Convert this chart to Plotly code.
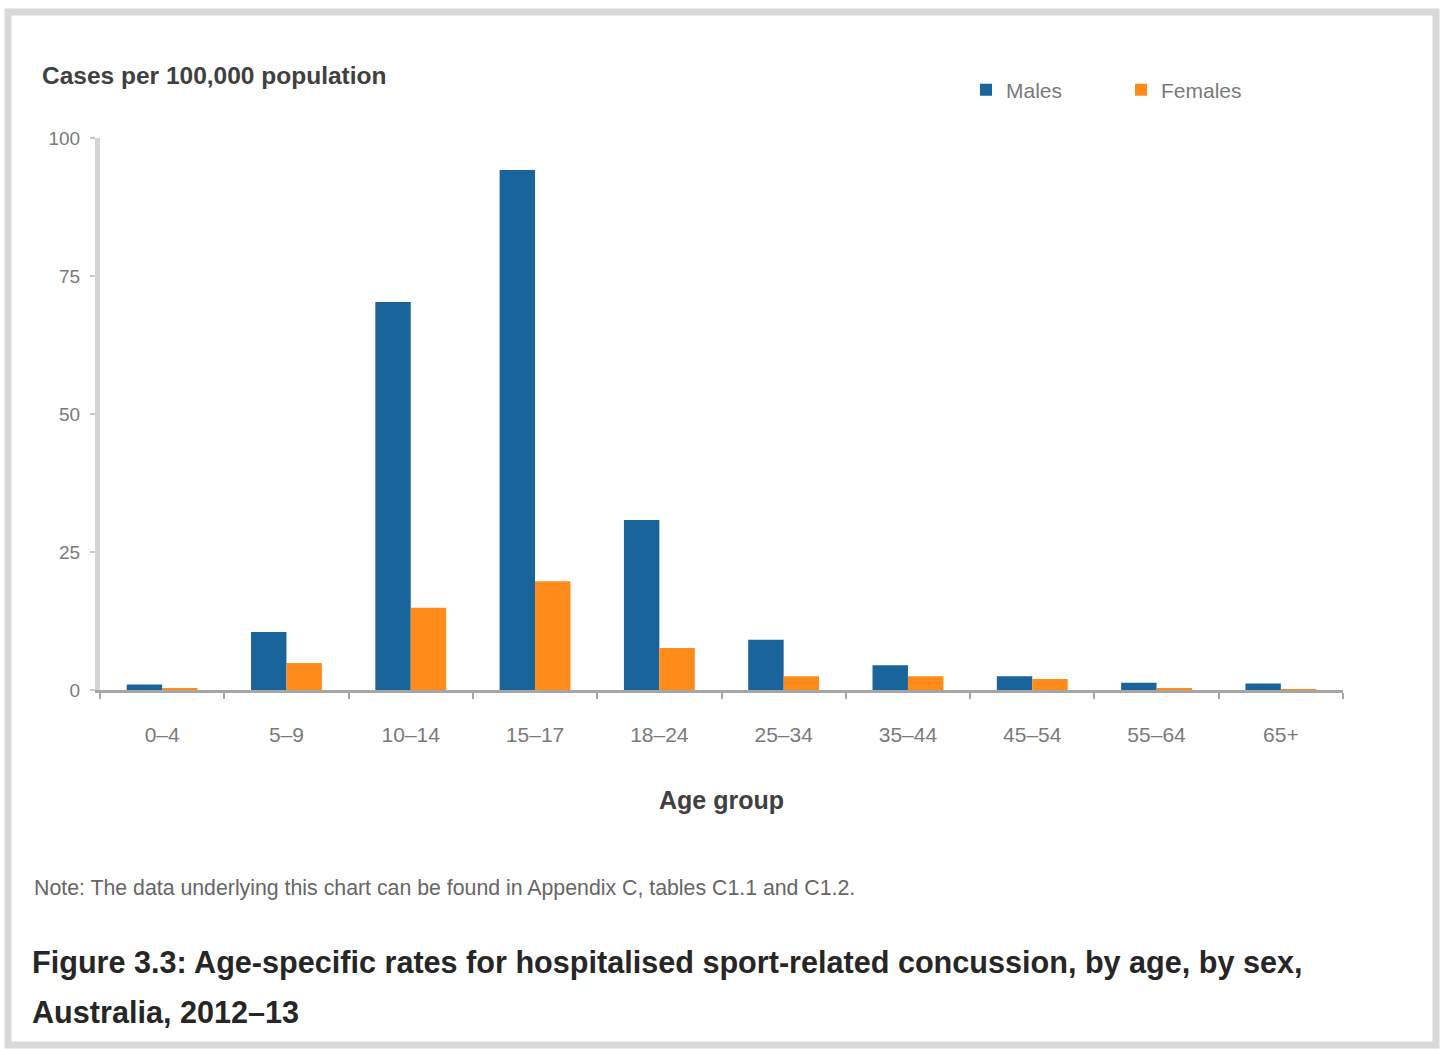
import plotly.graph_objects as go

# Age-specific rates of hospitalised sport-related concussion, 2012-13
age_groups = ["0–4", "5–9", "10–14", "15–17", "18–24", "25–34", "35–44", "45–54", "55–64", "65+"]
males = [1.0, 10.5, 70.3, 94.2, 30.8, 9.1, 4.5, 2.5, 1.3, 1.2]
females = [0.3, 4.9, 14.9, 19.7, 7.6, 2.5, 2.5, 2.0, 0.3, 0.1]
y_ticks = [0, 25, 50, 75, 100]
caption_lines = [
    "Figure 3.3: Age-specific rates for hospitalised sport-related concussion, by age, by sex,",
    "Australia, 2012–13",
]

BLUE = "#1a649c"
ORANGE = "#ff8c1a"
FONT = "Liberation Sans, Arial, sans-serif"

W, H = 1441, 1049
L, R, T, B = 100, 98, 138, 359
pw, ph = W - L - R, H - T - B


def px_x(x):
    return (x - L) / pw


def px_y(y):
    return (H - B - y) / ph


fig = go.Figure()
fig.add_trace(go.Bar(name="Males", x=age_groups, y=males, marker_color=BLUE, marker_line_width=0))
fig.add_trace(go.Bar(name="Females", x=age_groups, y=females, marker_color=ORANGE, marker_line_width=0))

fig.update_layout(
    width=W,
    height=H,
    margin=dict(l=L, r=R, t=T, b=B),
    paper_bgcolor="white",
    plot_bgcolor="white",
    barmode="group",
    bargap=0.43,
    bargroupgap=0,
    font=dict(family=FONT, color="#595959"),
    legend=dict(
        orientation="h",
        x=px_x(966),
        y=px_y(90),
        xanchor="left",
        yanchor="middle",
        font=dict(size=21, color="#7a7a7a", family=FONT),
        entrywidth=110,
        entrywidthmode="pixels",
        itemwidth=30,
        bgcolor="rgba(0,0,0,0)",
    ),
    xaxis=dict(
        type="category",
        showgrid=False,
        showline=True,
        linecolor="#a6a6a6",
        linewidth=3,
        ticks="outside",
        tickson="boundaries",
        ticklen=6,
        tickcolor="#a6a6a6",
        tickwidth=2,
        ticklabelstandoff=24,
        tickfont=dict(size=21, color="#7a7a7a"),
        title=dict(text="<b>Age group</b>", font=dict(size=25, color="#404040"), standoff=47),
    ),
    yaxis=dict(
        range=[0, 100],
        tickvals=y_ticks,
        showgrid=False,
        zeroline=False,
        showline=True,
        linecolor="#d4d4d4",
        linewidth=5,
        ticks="outside",
        ticklen=5,
        tickcolor="#c8c8c8",
        tickwidth=2,
        ticklabelstandoff=6,
        tickfont=dict(size=19, color="#7a7a7a"),
    ),
)

# outer frame around the figure
fig.add_shape(
    type="rect",
    xref="paper",
    yref="paper",
    x0=px_x(8),
    x1=px_x(1436),
    y0=px_y(1045),
    y1=px_y(12),
    line=dict(color="#d9d9d9", width=7),
    fillcolor="rgba(0,0,0,0)",
    layer="below",
)

# y-axis heading
fig.add_annotation(
    text="<b>Cases per 100,000 population</b>",
    xref="paper", yref="paper",
    x=px_x(40), y=px_y(76),
    xanchor="left", yanchor="middle",
    showarrow=False,
    font=dict(size=24.5, color="#404040", family=FONT),
)

# data source note
fig.add_annotation(
    text="Note: The data underlying this chart can be found in Appendix C, tables C1.1 and C1.2.",
    xref="paper", yref="paper",
    x=px_x(32), y=px_y(888),
    xanchor="left", yanchor="middle",
    showarrow=False,
    font=dict(size=21.3, color="#666666", family=FONT),
)

# figure caption, two lines
for line, y_px in zip(caption_lines, [962, 1012]):
    fig.add_annotation(
        text=f"<b>{line}</b>",
        xref="paper", yref="paper",
        x=px_x(30), y=px_y(y_px),
        xanchor="left", yanchor="middle",
        align="left",
        showarrow=False,
        font=dict(size=30.6, color="#262626", family=FONT),
    )

fig.write_html("out.html")
